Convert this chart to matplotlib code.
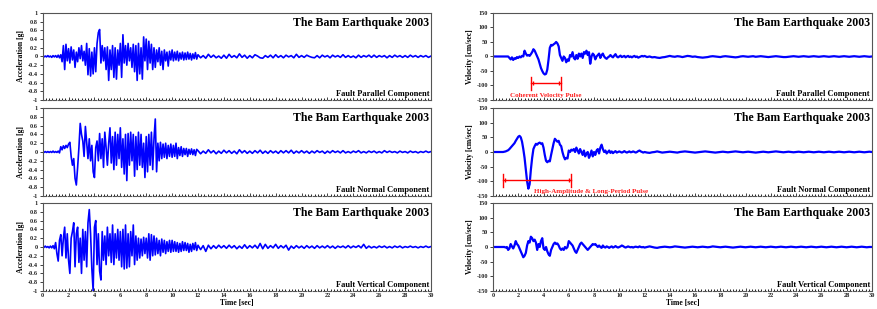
import numpy as np
import matplotlib
matplotlib.use("Agg")
from matplotlib import pyplot as plt
from matplotlib.ticker import FuncFormatter, MultipleLocator

plt.rcParams['font.family'] = ['Liberation Serif', 'DejaVu Serif']
plt.rcParams['font.weight'] = 'bold'

# sampled at 0.1 s for 0-11.9 s, then 0.2 s for 12-30 s
acc_par_head = [0.01, -0.01, 0.01, -0.01, 0.02, -0.01, 0.01, -0.02, 0.02, -0.01, 0.02, -0.02, 0.03, -0.03, 0.04,
                -0.12, 0.25, -0.30, 0.28, -0.10,
                0.18, -0.15, 0.22, -0.08, 0.15, -0.25, 0.10, -0.12, 0.20, -0.05,
                0.25, -0.10, 0.12, -0.20, 0.30, -0.42, 0.18, -0.45, 0.10, -0.40,
                0.20, -0.35, 0.30, 0.55, 0.62, -0.15, 0.25, -0.10, 0.20, -0.30,
                0.22, -0.55, 0.15, -0.30, 0.25, -0.48, 0.20, -0.52, 0.15, -0.20,
                0.30, -0.48, 0.50, -0.15, 0.25, -0.20, 0.30, -0.10, 0.20, -0.25,
                0.28, -0.35, 0.25, -0.55, 0.30, -0.40, 0.20, -0.52, 0.45, -0.10,
                0.40, -0.30, 0.35, -0.15, 0.28, -0.30, 0.20, -0.25, 0.15, -0.12,
                0.20, -0.20, 0.12, -0.30, 0.15, -0.10, 0.10, -0.22, 0.12, -0.08,
                0.15, -0.10, 0.10, -0.08, 0.12, -0.10, 0.08, -0.06, 0.10, -0.08,
                0.08, -0.07, 0.10, -0.06, 0.07, -0.08, 0.06, -0.05, 0.09, -0.06]
acc_par_tail = [0.04, -0.03, 0.02, -0.04, 0.05, -0.02, 0.03, -0.03, 0.01, -0.04,
                0.03, -0.04, 0.05, -0.02, 0.02, -0.03, 0.06, -0.02, 0.03, -0.04,
                0.02, -0.03, 0.04, 0.01, -0.03, -0.04, 0.02, -0.02, 0.03, -0.03,
                0.04, -0.02, 0.02, -0.03, 0.03, -0.01, 0.02, -0.03, 0.05, -0.02,
                0.02, -0.02, 0.03, 0.00, -0.02, -0.03, 0.02, -0.03, 0.03, -0.01,
                0.02, -0.03, 0.03, -0.01, 0.02, -0.02, 0.04, -0.02, 0.02, -0.02,
                0.01, -0.03, 0.03, -0.02, 0.02, -0.01, 0.03, -0.02, 0.03, -0.02,
                0.02, -0.01, 0.02, -0.03, 0.02, -0.02, 0.03, -0.01, 0.02, -0.02,
                0.02, -0.02, 0.03, -0.01, 0.02, -0.02, 0.02, -0.01, 0.02, -0.02, 0.01]

acc_nor_head = [0.01, -0.01, 0.01, -0.01, 0.01, -0.01, 0.01, -0.01, 0.02, -0.01, 0.01, -0.01, 0.02, -0.02,
                0.12, 0.05, 0.14, 0.08, 0.15, 0.10,
                0.18, 0.22, -0.10, -0.30, -0.15, -0.60, -0.75, -0.35, 0.10, 0.65,
                0.40, 0.25, -0.10, 0.58, 0.20, -0.15, 0.30, -0.20, 0.15, -0.45,
                -0.58, 0.10, 0.25, -0.20, 0.42, -0.15, 0.30, -0.35, 0.45, 0.10,
                -0.30, 0.20, 0.55, -0.25, 0.35, -0.40, 0.45, -0.30, 0.40, -0.15,
                0.55, -0.35, 0.30, -0.50, 0.40, -0.65, 0.42, -0.30, 0.45, -0.20,
                0.40, -0.55, 0.35, -0.40, 0.45, -0.30, 0.40, -0.35, 0.20, -0.58,
                0.35, -0.45, 0.40, -0.30, 0.45, -0.40, 0.30, 0.75, -0.45, 0.20,
                -0.20, 0.22, -0.15, 0.18, -0.12, 0.20, -0.15, 0.15, -0.10, 0.18,
                -0.12, 0.15, -0.10, 0.20, -0.15, 0.10, -0.08, 0.12, -0.10, 0.08,
                -0.06, 0.08, -0.10, 0.06, -0.05, 0.07, -0.06, 0.05, -0.08, 0.06]
acc_nor_tail = [0.03, -0.04, 0.02, -0.03, 0.05, -0.02, 0.03, -0.04, 0.02, -0.03,
                0.04, -0.02, 0.03, -0.03, 0.02, -0.04, 0.05, -0.02, 0.03, -0.03,
                0.02, -0.03, 0.03, -0.02, 0.04, -0.03, 0.02, -0.03, 0.03, -0.02,
                0.02, -0.03, 0.03, -0.02, 0.03, -0.02, 0.04, -0.03, 0.02, -0.02,
                0.03, -0.02, 0.02, -0.03, 0.02, -0.02, 0.03, -0.01, 0.02, -0.03,
                0.02, -0.02, 0.03, -0.01, 0.02, -0.02, 0.03, -0.02, 0.01, -0.02,
                0.02, -0.01, 0.03, -0.02, 0.01, -0.02, 0.02, -0.01, 0.02, -0.02,
                0.01, -0.02, 0.03, -0.01, 0.02, -0.01, 0.01, -0.02, 0.02, -0.01,
                0.01, -0.02, 0.02, -0.01, 0.01, -0.02, 0.01, -0.01, 0.02, -0.01, 0.01]

acc_ver_head = [0.01, -0.01, 0.02, -0.01, 0.01, -0.02, 0.02, -0.02, 0.03, -0.04,
                0.10, -0.15, -0.32, 0.15, 0.28, -0.20, 0.20, 0.45, -0.25, 0.30,
                -0.30, -0.60, 0.20, 0.35, 0.55, -0.45, 0.30, 0.45, -0.35, 0.20,
                -0.60, 0.40, -0.30, 0.35, -0.45, 0.55, 0.85, 0.30, -0.50, -1.00,
                0.45, 0.60, -0.40, 0.30, -0.55, -0.75, 0.35, -0.30, 0.25, -0.40,
                0.45, -0.20, 0.30, -0.35, 0.50, -0.40, 0.30, -0.25, 0.40, -0.30,
                0.35, -0.45, 0.40, -0.50, 0.50, -0.48, 0.30, -0.45, 0.35, -0.20,
                0.50, -0.40, 0.25, -0.30, 0.20, -0.25, 0.18, -0.20, 0.22, -0.15,
                0.20, -0.25, 0.30, -0.30, 0.28, -0.20, 0.25, -0.18, 0.20, -0.15,
                0.15, -0.20, 0.18, -0.12, 0.15, -0.15, 0.12, -0.10, 0.15, -0.12,
                0.15, -0.10, 0.12, -0.10, 0.10, -0.12, 0.08, -0.10, 0.12, -0.08,
                0.10, -0.08, 0.08, -0.12, 0.06, -0.10, 0.08, -0.06, 0.10, -0.08]
acc_ver_tail = [0.04, -0.06, 0.03, -0.10, 0.04, -0.04, 0.03, -0.03, 0.04, -0.02,
                0.03, -0.03, 0.04, -0.02, 0.03, -0.04, 0.02, -0.03, 0.05, -0.03,
                0.03, -0.02, 0.04, -0.03, 0.08, -0.04, 0.06, -0.03, 0.03, -0.02,
                0.06, -0.03, 0.03, -0.02, 0.04, -0.07, 0.02, -0.03, 0.03, -0.02,
                0.02, -0.03, 0.03, -0.02, 0.02, -0.03, 0.03, -0.02, 0.02, -0.02,
                0.03, -0.02, 0.02, -0.03, 0.02, -0.01, 0.02, -0.02, 0.03, -0.02,
                0.02, -0.01, 0.03, -0.02, 0.06, -0.03, 0.02, -0.02, 0.01, -0.02,
                0.02, -0.01, 0.02, -0.02, 0.01, -0.02, 0.02, -0.01, 0.02, -0.02,
                0.01, -0.01, 0.02, -0.01, 0.01, -0.02, 0.01, -0.01, 0.02, -0.01, 0.01]

vel_par_head = [0, 0, 0, 0, 0, 0, 0, 0, 0, 0, 0, 0, 0,
                -5, -10, -3, -12, -6, -8, -2,
                -5, 0, -3, 2, 0, 20, 10, 3, 5, 2,
                8, 15, 25, 20, 10, 0, -10, -25, -40, -50,
                -58, -62, -60, -45, -10, 30, 40, 38, 42, 45,
                50, 45, 35, 5, -5, -15, 0, -5, -20, -10,
                -15, 5, 0, 15, -5, -10, 5, -8, 10, 0,
                10, -5, 15, 10, 20, 5, 15, -25, 0, 10,
                5, -10, 0, 5, 10, -5, 5, 10, 0, -5,
                -8, -3, 0, 5, 0, -3, 3, 8, 0, -3,
                0, 3, -2, 0, 2, -3, 0, 2, -2, 0,
                -3, 0, 2, -2, 0, -4, -2, 0, 2, 0]
vel_par_tail = [2, -2, 0, -3, -2, -4, -5, -3, -2, 0,
                2, 0, -1, 1, 0, -2, 0, 2, 1, -1,
                0, -2, -3, -4, -3, -2, 0, 1, 0, -1,
                -2, 0, 1, 0, -1, -2, -3, -2, 0, 1,
                0, -1, 0, 1, -1, 0, 1, 0, -1, -2,
                -1, 0, 1, 0, -1, -2, -2, -1, 0, 1,
                0, -1, 0, 1, 0, -1, 0, 1, 0, -1,
                0, 1, 0, -1, 0, 1, 0, -1, 0, 1,
                0, -1, 0, 1, 0, -1, 0, 1, 0, -1, 0]

vel_nor_head = [0, 0, 0, 0, 0, 0, 0, 0, 0, 1,
                2, 4, 6, 10, 15, 20, 25, 30, 38, 45,
                52, 55, 50, 35, 10, -20, -60, -100, -125, -110,
                -60, -20, 10, 20, 28, 25, 30, 32, 28, 30,
                15, -10, -30, -35, -30, -32, -10, 10, 30, 45,
                40, 35, 38, 25, 20, 0, -15, -25, -20, -22,
                5, 0, 8, 5, 10, 0, 15, 5, -5, 10,
                0, -10, 5, -15, -5, 0, -20, -10, 5, -15,
                0, -10, 5, 10, -5, 15, 25, 10, 0, 5,
                -5, 0, 5, -3, 2, -4, 0, 3, -2, 0,
                2, 0, -2, 0, 3, 0, -2, 0, 2, -1,
                0, 2, 0, -2, 0, 3, 5, 2, 0, -2]
vel_nor_tail = [0, -2, -3, -1, 0, 2, 0, -2, -1, 0,
                1, 0, -1, -2, 0, 1, 2, 1, 0, -1,
                -2, -1, 0, 1, 2, 1, 0, -1, -2, -1,
                0, 1, 0, -1, 0, 1, 2, 1, 0, -1,
                0, 1, 0, -1, -2, -1, 0, 1, 0, -1,
                0, 1, 2, 1, 0, -1, 0, 1, 0, -1,
                0, 1, 0, -1, 0, 1, 0, -1, 0, 1,
                0, -1, 0, 1, 0, -1, 0, 1, 0, -1,
                0, 1, 0, -1, 0, 1, 0, -1, 0, 1, 0]

vel_ver_head = [0, 0, 0, 0, 0, 0, 0, 0, 0, 0,
                -2, 0, -10, -5, 10, 2, -5, 5, 20, 10,
                5, -5, -15, -25, -35, -30, -20, 5, 20, 15,
                35, 30, 20, 25, 15, -10, 10, 0, 20, 30,
                -5, -10, 0, -15, -25, -30, -10, 0, 10, 15,
                10, 12, 5, -5, -10, -5, -10, 0, -5, 0,
                20, 15, 10, 5, -5, -15, -20, -10, 0, 10,
                15, 10, 5, 0, -5, -10, -5, 0, 5, 10,
                8, 10, 5, 0, 5, 0, -3, 5, 0, -2,
                2, 0, -3, 0, 2, -2, 0, 3, 0, -2,
                0, 2, 5, 3, 0, -2, 0, 2, 0, -1,
                0, -2, 0, 1, 0, -1, 2, 0, -1, 0]
vel_ver_tail = [-2, 0, 2, 0, -2, -3, -1, 0, 1, 0,
                -1, 0, 2, 1, 0, -1, -2, -1, 0, 1,
                0, -1, 0, 1, 0, -1, 0, 2, 1, 0,
                -1, 0, 1, 0, -1, -2, -1, 0, 1, 0,
                -1, 0, 1, 0, -1, 0, 1, 0, -1, 0,
                1, 0, -1, 0, 1, 0, -1, 0, 1, 0,
                -1, 0, 1, 0, -1, 0, 1, 0, -1, 0,
                1, 0, -1, 0, 1, 0, -1, 0, 1, 0,
                -1, 0, 1, 0, -1, 0, 1, 0, -1, 0, 0]

components = ['Fault Parallel Component', 'Fault Normal Component', 'Fault Vertical Component']
acc_series = [(acc_par_head, acc_par_tail), (acc_nor_head, acc_nor_tail), (acc_ver_head, acc_ver_tail)]
vel_series = [(vel_par_head, vel_par_tail), (vel_nor_head, vel_nor_tail), (vel_ver_head, vel_ver_tail)]

# pulse annotations on the velocity panels: (start, end, level, label, label x, label align)
pulses = {0: (3.0, 5.4, -92, 'Coherent Velocity Pulse', 4.2, 'center'),
          1: (0.8, 6.15, -96, 'High-Amplitude & Long-Period Pulse', 3.25, 'left')}


def make_time(head, tail):
    t1 = np.arange(len(head)) * 0.1
    t2 = 12 + np.arange(len(tail)) * 0.2
    return np.concatenate([t1, t2]), np.concatenate([head, tail])


fig = plt.figure(figsize=(8.78, 3.09), dpi=100)
rows = [(0.6764, 0.2816), (0.3657, 0.2848), (0.0583, 0.2848)]
fmt = FuncFormatter(lambda v, p: '%g' % round(v, 2))


def style(ax, ylo, yhi, ystep, ylabel, bottom):
    ax.set_xlim(0, 30)
    ax.set_ylim(ylo, yhi)
    ax.xaxis.set_major_locator(MultipleLocator(2))
    ax.xaxis.set_minor_locator(MultipleLocator(0.25))
    ax.yaxis.set_major_locator(MultipleLocator(ystep))
    ax.yaxis.set_major_formatter(fmt)
    ax.tick_params(axis='both', labelsize=4.5, length=2, width=0.6, pad=1.5, colors='#222222')
    ax.tick_params(axis='x', which='minor', length=1.5, width=0.6, direction='in')
    ax.tick_params(axis='x', which='major', direction='in')
    for s in ax.spines.values():
        s.set_color('#555555')
        s.set_linewidth(0.8)
    ax.spines['bottom'].set_linestyle((0, (3, 1.5)))
    ax.set_ylabel(ylabel, fontsize=5.5, fontweight='bold', labelpad=2)
    if bottom:
        ax.set_xlabel('Time [sec]', fontsize=5.5, fontweight='bold', labelpad=1)
    else:
        ax.tick_params(axis='x', labelbottom=False)


for i in range(3):
    b, h = rows[i]
    axl = fig.add_axes([0.0486, b, 0.4423, h])
    t, a = make_time(*acc_series[i])
    axl.plot(t, a, color='#0000ff', lw=1.2)
    style(axl, -1, 1, 0.2, 'Acceleration [g]', i == 2)
    axl.text(0.995, 0.95, 'The Bam Earthquake 2003', transform=axl.transAxes,
             ha='right', va='top', fontsize=8.5, fontweight='bold')
    axl.text(0.995, 0.025, components[i], transform=axl.transAxes,
             ha='right', va='bottom', fontsize=6, fontweight='bold')

    axr = fig.add_axes([0.5615, b, 0.4315, h])
    t, v = make_time(*vel_series[i])
    axr.plot(t, v, color='#0000ff', lw=1.6)
    style(axr, -150, 150, 50, 'Velocity [cm/sec]', i == 2)
    axr.text(0.995, 0.95, 'The Bam Earthquake 2003', transform=axr.transAxes,
             ha='right', va='top', fontsize=8.5, fontweight='bold')
    axr.text(0.995, 0.025, components[i], transform=axr.transAxes,
             ha='right', va='bottom', fontsize=6, fontweight='bold')
    if i in pulses:
        x0, x1, lev, lab, lx, la = pulses[i]
        axr.plot([x0, x1], [lev, lev], color='red', lw=1)
        axr.plot([x0, x0], [lev - 22, lev + 22], color='red', lw=1)
        axr.plot([x1, x1], [lev - 22, lev + 22], color='red', lw=1)
        axr.plot([x0 + 0.15, x1 - 0.15], [lev, lev], ls='none', marker='|', ms=3, color='red')
        axr.text(lx, -126, lab, ha=la, va='top', fontsize=5, fontweight='bold', color='#ff2020')

fig.savefig('out.png', dpi=100)
